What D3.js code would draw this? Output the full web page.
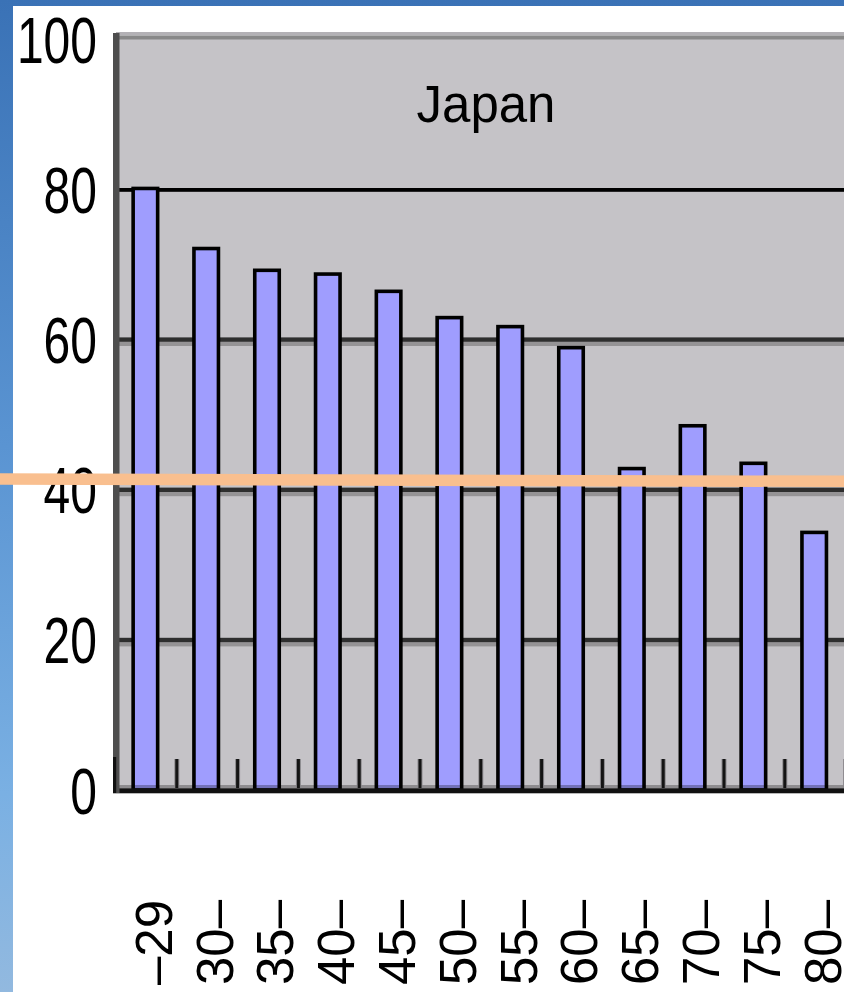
<!DOCTYPE html>
<html>
<head>
<meta charset="utf-8">
<script src="https://cdn.jsdelivr.net/npm/d3@7"></script>
<style>
  html, body { margin: 0; padding: 0; background: #fff; }
  svg { display: block; }
</style>
</head>
<body>
<script>
// Age groups along the x axis
const categories = ["–29", "30–", "35–", "40–", "45–", "50–", "55–", "60–", "65–", "70–", "75–", "80–"];
// Share (%) for each age group
const values = [80.1, 72.1, 69.2, 68.7, 66.4, 62.9, 61.7, 58.9, 42.8, 48.5, 43.5, 34.3];
// Value axis ticks
const yTicks = [0, 20, 40, 60, 80, 100];
// Reference level, at the left and right ends of the marker line
const refLevel = [41.4, 41.1];
const title = "Japan";

const W = 844, H = 992;
const FONT = "'Liberation Sans', Arial, sans-serif";

const svg = d3.select("body").append("svg").attr("width", W).attr("height", H);

// Slide backdrop: blue gradient with a white panel
const defs = svg.append("defs");
const grad = defs.append("linearGradient").attr("id", "bg").attr("x1", 0).attr("y1", 0).attr("x2", 0).attr("y2", 1);
[["0", "#3a72b6"], ["0.45", "#5a94d2"], ["0.8", "#7ab0e3"], ["1", "#92b9df"]]
  .forEach(([o, c]) => grad.append("stop").attr("offset", o).attr("stop-color", c));
svg.append("rect").attr("width", W).attr("height", H).attr("fill", "url(#bg)");
svg.append("rect").attr("x", 13).attr("y", 6).attr("width", W - 13).attr("height", H - 6).attr("fill", "#fff");

// Scales
const band = 60.8;
const x = d3.scaleBand().domain(categories).range([116, 116 + categories.length * band]).padding(0);
const y = d3.scaleLinear().domain([0, 100]).range([790, 39]);

// Plot area
svg.append("rect")
  .attr("x", 116).attr("y", y(100))
  .attr("width", W - 116).attr("height", y(0) - y(100))
  .attr("fill", "#c5c3c7");

// Top frame of the plot
svg.append("rect").attr("x", 116).attr("y", y(100) - 7).attr("width", W - 116).attr("height", 3.5).attr("fill", "#b3b1b5");
svg.append("rect").attr("x", 116).attr("y", y(100) - 3.5).attr("width", W - 116).attr("height", 4).attr("fill", "#888888");

// Gridlines with a soft shadow beneath
const grid = svg.append("g");
yTicks.filter(v => v > 0 && v < 80).forEach(v => {
  grid.append("rect").attr("x", 116).attr("y", y(v) + 2.4).attr("width", W - 116).attr("height", 4.2).attr("fill", "#959395");
  grid.append("rect").attr("x", 116).attr("y", y(v) - 2).attr("width", W - 116).attr("height", 4.4).attr("fill", "#2e2e2e");
});
// Border under the title band
grid.append("rect").attr("x", 116).attr("y", y(80) - 1.2).attr("width", W - 116).attr("height", 3.8).attr("fill", "#000");

// Title inside the top band
svg.append("text")
  .attr("x", 486).attr("y", 122)
  .attr("text-anchor", "middle")
  .attr("font-family", FONT).attr("font-size", 51)
  .attr("fill", "#000")
  .text(title);

// Bars
const barW = 24.5;
svg.append("g").selectAll("rect")
  .data(categories.map((c, i) => ({ c, v: values[i] })))
  .join("rect")
  .attr("x", d => x(d.c) + (x.bandwidth() - barW) / 2 - 1)
  .attr("y", d => y(d.v))
  .attr("width", barW)
  .attr("height", d => y(0) - y(d.v))
  .attr("fill", "#9f9dfe")
  .attr("stroke", "#000")
  .attr("stroke-width", 3.6);

// Category axis: shaded strip, baseline and tick marks between groups
svg.append("rect").attr("x", 116).attr("y", 785).attr("width", W - 116).attr("height", 3.3).attr("fill", "#000").attr("opacity", 0.28);
svg.append("rect").attr("x", 113).attr("y", 788.3).attr("width", W - 113).attr("height", 5).attr("fill", "#111");
const tickG = svg.append("g");
categories.forEach(c => {
  const tx = x(c) + x.bandwidth();
  tickG.append("line").attr("x1", tx).attr("x2", tx).attr("y1", 759).attr("y2", 788)
    .attr("stroke", "#8a888c").attr("stroke-width", 5);
  tickG.append("line").attr("x1", tx).attr("x2", tx).attr("y1", 759).attr("y2", 788)
    .attr("stroke", "#141414").attr("stroke-width", 3);
});

// Value axis line
svg.append("rect").attr("x", 113).attr("y", y(100) - 6).attr("width", 6.5).attr("height", 793 - y(100) + 6).attr("fill", "#4e4e4e");
svg.append("rect").attr("x", 113).attr("y", 757).attr("width", 3.2).attr("height", 36).attr("fill", "#111");

// Value axis labels (narrow, tall digits)
const sx = 0.75;
const yAxis = svg.append("g").attr("transform", "translate(116,0)")
  .call(d3.axisLeft(y).tickValues(yTicks).tickSize(0).tickFormat(d3.format("d")));
yAxis.select(".domain").remove();
yAxis.selectAll("text")
  .attr("font-family", FONT).attr("font-size", 64).attr("fill", "#000")
  .attr("text-anchor", "end")
  .attr("transform", `scale(${sx},1)`)
  .attr("x", -19 / sx)
  .attr("dy", "0.36em");

// Category labels, rotated to read upward
const xAxis = svg.append("g").attr("transform", "translate(0,790)")
  .call(d3.axisBottom(x).tickSize(0));
xAxis.select(".domain").remove();
xAxis.selectAll("text")
  .attr("font-family", FONT).attr("font-size", 51).attr("fill", "#000")
  .attr("text-anchor", "start")
  .attr("transform", "rotate(-90)")
  .attr("x", -195)
  .attr("y", 7)
  .attr("dy", "0.36em");

// Reference marker line across the slide
svg.append("line")
  .attr("x1", 0).attr("x2", W)
  .attr("y1", y(refLevel[0])).attr("y2", y(refLevel[1]))
  .attr("stroke", "#f9bf8f").attr("stroke-width", 11.5);
</script>
</body>
</html>
